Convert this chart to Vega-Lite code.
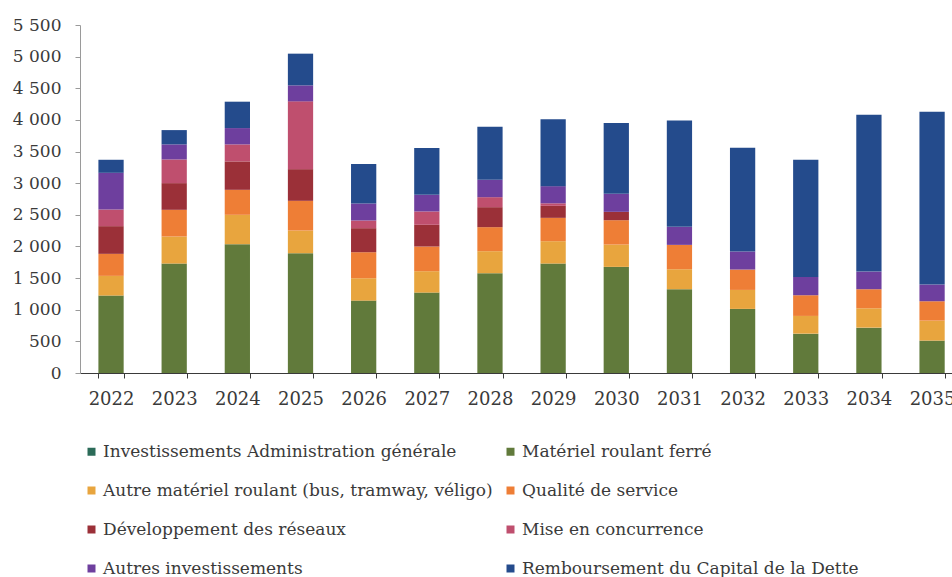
{
  "$schema": "https://vega.github.io/schema/vega-lite/v6.json",
  "width": 872,
  "height": 348,
  "autosize": {"type": "none"},
  "padding": {"left": 80, "top": 25, "right": 0, "bottom": 204},
  "background": "white",
  "config": {"view": {"stroke": null}},
  "datasets": {
    "categories": [
      {"categorie": "Investissements Administration générale", "rang": 0},
      {"categorie": "Matériel roulant ferré", "rang": 1},
      {"categorie": "Autre matériel roulant (bus, tramway, véligo)", "rang": 2},
      {"categorie": "Qualité de service", "rang": 3},
      {"categorie": "Développement des réseaux", "rang": 4},
      {"categorie": "Mise en concurrence", "rang": 5},
      {"categorie": "Autres investissements", "rang": 6},
      {"categorie": "Remboursement du Capital de la Dette", "rang": 7}
    ],
    "invest": [
      {"annee": "2022", "categorie": "Investissements Administration générale", "valeur": 0},
      {"annee": "2022", "categorie": "Matériel roulant ferré", "valeur": 1224},
      {"annee": "2022", "categorie": "Autre matériel roulant (bus, tramway, véligo)", "valeur": 311},
      {"annee": "2022", "categorie": "Qualité de service", "valeur": 348},
      {"annee": "2022", "categorie": "Développement des réseaux", "valeur": 438},
      {"annee": "2022", "categorie": "Mise en concurrence", "valeur": 263},
      {"annee": "2022", "categorie": "Autres investissements", "valeur": 580},
      {"annee": "2022", "categorie": "Remboursement du Capital de la Dette", "valeur": 206},

      {"annee": "2023", "categorie": "Investissements Administration générale", "valeur": 0},
      {"annee": "2023", "categorie": "Matériel roulant ferré", "valeur": 1730},
      {"annee": "2023", "categorie": "Autre matériel roulant (bus, tramway, véligo)", "valeur": 427},
      {"annee": "2023", "categorie": "Qualité de service", "valeur": 422},
      {"annee": "2023", "categorie": "Développement des réseaux", "valeur": 422},
      {"annee": "2023", "categorie": "Mise en concurrence", "valeur": 374},
      {"annee": "2023", "categorie": "Autres investissements", "valeur": 238},
      {"annee": "2023", "categorie": "Remboursement du Capital de la Dette", "valeur": 226},

      {"annee": "2024", "categorie": "Investissements Administration générale", "valeur": 0},
      {"annee": "2024", "categorie": "Matériel roulant ferré", "valeur": 2036},
      {"annee": "2024", "categorie": "Autre matériel roulant (bus, tramway, véligo)", "valeur": 464},
      {"annee": "2024", "categorie": "Qualité de service", "valeur": 395},
      {"annee": "2024", "categorie": "Développement des réseaux", "valeur": 449},
      {"annee": "2024", "categorie": "Mise en concurrence", "valeur": 269},
      {"annee": "2024", "categorie": "Autres investissements", "valeur": 258},
      {"annee": "2024", "categorie": "Remboursement du Capital de la Dette", "valeur": 417},

      {"annee": "2025", "categorie": "Investissements Administration générale", "valeur": 0},
      {"annee": "2025", "categorie": "Matériel roulant ferré", "valeur": 1893},
      {"annee": "2025", "categorie": "Autre matériel roulant (bus, tramway, véligo)", "valeur": 359},
      {"annee": "2025", "categorie": "Qualité de service", "valeur": 469},
      {"annee": "2025", "categorie": "Développement des réseaux", "valeur": 501},
      {"annee": "2025", "categorie": "Mise en concurrence", "valeur": 1071},
      {"annee": "2025", "categorie": "Autres investissements", "valeur": 253},
      {"annee": "2025", "categorie": "Remboursement du Capital de la Dette", "valeur": 501},

      {"annee": "2026", "categorie": "Investissements Administration générale", "valeur": 0},
      {"annee": "2026", "categorie": "Matériel roulant ferré", "valeur": 1144},
      {"annee": "2026", "categorie": "Autre matériel roulant (bus, tramway, véligo)", "valeur": 354},
      {"annee": "2026", "categorie": "Qualité de service", "valeur": 411},
      {"annee": "2026", "categorie": "Développement des réseaux", "valeur": 380},
      {"annee": "2026", "categorie": "Mise en concurrence", "valeur": 121},
      {"annee": "2026", "categorie": "Autres investissements", "valeur": 269},
      {"annee": "2026", "categorie": "Remboursement du Capital de la Dette", "valeur": 623},

      {"annee": "2027", "categorie": "Investissements Administration générale", "valeur": 0},
      {"annee": "2027", "categorie": "Matériel roulant ferré", "valeur": 1271},
      {"annee": "2027", "categorie": "Autre matériel roulant (bus, tramway, véligo)", "valeur": 338},
      {"annee": "2027", "categorie": "Qualité de service", "valeur": 390},
      {"annee": "2027", "categorie": "Développement des réseaux", "valeur": 343},
      {"annee": "2027", "categorie": "Mise en concurrence", "valeur": 211},
      {"annee": "2027", "categorie": "Autres investissements", "valeur": 263},
      {"annee": "2027", "categorie": "Remboursement du Capital de la Dette", "valeur": 739},

      {"annee": "2028", "categorie": "Investissements Administration générale", "valeur": 0},
      {"annee": "2028", "categorie": "Matériel roulant ferré", "valeur": 1577},
      {"annee": "2028", "categorie": "Autre matériel roulant (bus, tramway, véligo)", "valeur": 348},
      {"annee": "2028", "categorie": "Qualité de service", "valeur": 380},
      {"annee": "2028", "categorie": "Développement des réseaux", "valeur": 316},
      {"annee": "2028", "categorie": "Mise en concurrence", "valeur": 158},
      {"annee": "2028", "categorie": "Autres investissements", "valeur": 275},
      {"annee": "2028", "categorie": "Remboursement du Capital de la Dette", "valeur": 836},

      {"annee": "2029", "categorie": "Investissements Administration générale", "valeur": 0},
      {"annee": "2029", "categorie": "Matériel roulant ferré", "valeur": 1730},
      {"annee": "2029", "categorie": "Autre matériel roulant (bus, tramway, véligo)", "valeur": 353},
      {"annee": "2029", "categorie": "Qualité de service", "valeur": 369},
      {"annee": "2029", "categorie": "Développement des réseaux", "valeur": 190},
      {"annee": "2029", "categorie": "Mise en concurrence", "valeur": 40},
      {"annee": "2029", "categorie": "Autres investissements", "valeur": 271},
      {"annee": "2029", "categorie": "Remboursement du Capital de la Dette", "valeur": 1057},

      {"annee": "2030", "categorie": "Investissements Administration générale", "valeur": 0},
      {"annee": "2030", "categorie": "Matériel roulant ferré", "valeur": 1677},
      {"annee": "2030", "categorie": "Autre matériel roulant (bus, tramway, véligo)", "valeur": 353},
      {"annee": "2030", "categorie": "Qualité de service", "valeur": 385},
      {"annee": "2030", "categorie": "Développement des réseaux", "valeur": 132},
      {"annee": "2030", "categorie": "Mise en concurrence", "valeur": 0},
      {"annee": "2030", "categorie": "Autres investissements", "valeur": 285},
      {"annee": "2030", "categorie": "Remboursement du Capital de la Dette", "valeur": 1120},

      {"annee": "2031", "categorie": "Investissements Administration générale", "valeur": 0},
      {"annee": "2031", "categorie": "Matériel roulant ferré", "valeur": 1324},
      {"annee": "2031", "categorie": "Autre matériel roulant (bus, tramway, véligo)", "valeur": 316},
      {"annee": "2031", "categorie": "Qualité de service", "valeur": 385},
      {"annee": "2031", "categorie": "Développement des réseaux", "valeur": 0},
      {"annee": "2031", "categorie": "Mise en concurrence", "valeur": 0},
      {"annee": "2031", "categorie": "Autres investissements", "valeur": 285},
      {"annee": "2031", "categorie": "Remboursement du Capital de la Dette", "valeur": 1680},

      {"annee": "2032", "categorie": "Investissements Administration générale", "valeur": 0},
      {"annee": "2032", "categorie": "Matériel roulant ferré", "valeur": 1013},
      {"annee": "2032", "categorie": "Autre matériel roulant (bus, tramway, véligo)", "valeur": 300},
      {"annee": "2032", "categorie": "Qualité de service", "valeur": 322},
      {"annee": "2032", "categorie": "Développement des réseaux", "valeur": 0},
      {"annee": "2032", "categorie": "Mise en concurrence", "valeur": 0},
      {"annee": "2032", "categorie": "Autres investissements", "valeur": 285},
      {"annee": "2032", "categorie": "Remboursement du Capital de la Dette", "valeur": 1640},

      {"annee": "2033", "categorie": "Investissements Administration générale", "valeur": 0},
      {"annee": "2033", "categorie": "Matériel roulant ferré", "valeur": 622},
      {"annee": "2033", "categorie": "Autre matériel roulant (bus, tramway, véligo)", "valeur": 280},
      {"annee": "2033", "categorie": "Qualité de service", "valeur": 327},
      {"annee": "2033", "categorie": "Développement des réseaux", "valeur": 0},
      {"annee": "2033", "categorie": "Mise en concurrence", "valeur": 0},
      {"annee": "2033", "categorie": "Autres investissements", "valeur": 290},
      {"annee": "2033", "categorie": "Remboursement du Capital de la Dette", "valeur": 1850},

      {"annee": "2034", "categorie": "Investissements Administration générale", "valeur": 0},
      {"annee": "2034", "categorie": "Matériel roulant ferré", "valeur": 717},
      {"annee": "2034", "categorie": "Autre matériel roulant (bus, tramway, véligo)", "valeur": 306},
      {"annee": "2034", "categorie": "Qualité de service", "valeur": 301},
      {"annee": "2034", "categorie": "Développement des réseaux", "valeur": 0},
      {"annee": "2034", "categorie": "Mise en concurrence", "valeur": 0},
      {"annee": "2034", "categorie": "Autres investissements", "valeur": 279},
      {"annee": "2034", "categorie": "Remboursement du Capital de la Dette", "valeur": 2480},

      {"annee": "2035", "categorie": "Investissements Administration générale", "valeur": 0},
      {"annee": "2035", "categorie": "Matériel roulant ferré", "valeur": 512},
      {"annee": "2035", "categorie": "Autre matériel roulant (bus, tramway, véligo)", "valeur": 316},
      {"annee": "2035", "categorie": "Qualité de service", "valeur": 306},
      {"annee": "2035", "categorie": "Développement des réseaux", "valeur": 0},
      {"annee": "2035", "categorie": "Mise en concurrence", "valeur": 0},
      {"annee": "2035", "categorie": "Autres investissements", "valeur": 264},
      {"annee": "2035", "categorie": "Remboursement du Capital de la Dette", "valeur": 2730}
    ]
  },
  "data": {"name": "invest"},
  "transform": [
    {"lookup": "categorie", "from": {"data": {"name": "categories"}, "key": "categorie", "fields": ["rang"]}}
  ],
  "mark": {"type": "bar"},
  "encoding": {
    "x": {
      "field": "annee",
      "type": "ordinal",
      "scale": {"paddingInner": 0.6, "paddingOuter": 0.2035, "align": 0.716},
      "axis": {
        "title": null,
        "labelAngle": 0,
        "tickBand": "extent",
        "domainColor": "#3a3a3a",
        "tickColor": "#3a3a3a",
        "tickSize": 5,
        "labelFont": "DejaVu Serif",
        "labelFontSize": 18,
        "labelColor": "#3a3a3a",
        "labelPadding": 12
      }
    },
    "y": {
      "field": "valeur",
      "type": "quantitative",
      "stack": "zero",
      "scale": {"domain": [0, 5500], "nice": false},
      "axis": {
        "title": null,
        "grid": false,
        "values": [0, 500, 1000, 1500, 2000, 2500, 3000, 3500, 4000, 4500, 5000, 5500],
        "labelExpr": "replace(format(datum.value, ','), ',', ' ')",
        "domainColor": "#9a9a9a",
        "tickColor": "#9a9a9a",
        "tickSize": 5,
        "labelFont": "DejaVu Serif",
        "labelFontSize": 17,
        "labelColor": "#3a3a3a",
        "labelPadding": 14
      }
    },
    "order": {"field": "rang", "type": "quantitative", "sort": "ascending"},
    "color": {
      "field": "categorie",
      "type": "nominal",
      "scale": {
        "domain": [
          "Investissements Administration générale",
          "Autre matériel roulant (bus, tramway, véligo)",
          "Développement des réseaux",
          "Autres investissements",
          "Matériel roulant ferré",
          "Qualité de service",
          "Mise en concurrence",
          "Remboursement du Capital de la Dette"
        ],
        "range": ["#2b6b58", "#e8a53e", "#9b3038", "#6e3f9e", "#617a3b", "#ee7e36", "#bf4f6e", "#244b8c"]
      },
      "legend": {
        "title": null,
        "orient": "none",
        "legendX": 3,
        "legendY": 418,
        "columns": 2,
        "columnPadding": 9,
        "rowPadding": 21,
        "symbolType": "square",
        "symbolSize": 64,
        "symbolStrokeWidth": 0,
        "labelFont": "DejaVu Serif",
        "labelFontSize": 17,
        "labelColor": "#3a3a3a",
        "labelLimit": 500,
        "labelOffset": 3
      }
    }
  }
}
